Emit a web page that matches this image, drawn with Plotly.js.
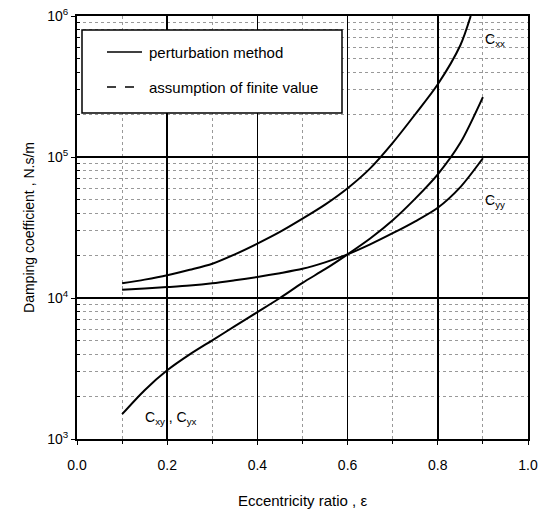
<!DOCTYPE html>
<html><head><meta charset="utf-8">
<script src="https://cdn.plot.ly/plotly-3.0.1.min.js"></script>
<style>html,body{margin:0;padding:0;background:#fff}</style>
</head><body>
<div id="chart" style="width:543px;height:513px"></div>
<script>
// Eccentricity ratio values and damping coefficients (N.s/m)
const epsXX = [0.1,0.15,0.2,0.25,0.3,0.35,0.4,0.45,0.5,0.55,0.6,0.65,0.7,0.75,0.8,0.85,0.873];
const cXX   = [12700,13500,14500,15850,17500,20400,24300,29400,36500,45900,60000,83000,126000,201000,328000,620000,1000000];
const epsYY = [0.1,0.15,0.2,0.25,0.3,0.35,0.4,0.45,0.5,0.55,0.6,0.65,0.7,0.75,0.8,0.85,0.9];
const cYY   = [11450,11700,11950,12250,12700,13350,14100,15000,16100,17900,20400,24000,28800,35000,43700,61200,98000];
const epsXY = [0.1,0.15,0.2,0.25,0.3,0.35,0.4,0.45,0.5,0.55,0.6,0.65,0.7,0.75,0.8,0.85,0.9];
const cXY   = [1500,2220,3070,3980,5010,6310,7940,10000,12800,16000,20400,26400,35600,50700,75400,126000,266000];
const xTickVals = [0,0.2,0.4,0.6,0.8,1.0];
const xTickText = ['0.0','0.2','0.4','0.6','0.8','1.0'];
const yTickVals = [1e3,1e4,1e5,1e6];
const yTickText = ['10<sup>3</sup>','10<sup>4</sup>','10<sup>5</sup>','10<sup>6</sup>'];
const seriesNames = ['perturbation method','assumption of finite value'];
const curveLabels = ['C<sub>xx</sub>','C<sub>yy</sub>','C<sub>xy</sub> , C<sub>yx</sub>'];

const FONT = 'Liberation Sans, Arial, sans-serif';
const solid = {color:'#000', width:2, shape:'spline', smoothing:0.8};
const traces = [
  {x:epsXX, y:cXX, mode:'lines', line:solid, name:seriesNames[0]},
  {x:epsYY, y:cYY, mode:'lines', line:solid, name:seriesNames[0]},
  {x:epsXY, y:cXY, mode:'lines', line:solid, name:seriesNames[0]}
];
// legend box geometry in pixels -> paper coords
const L = 77, T = 16, W = 451, H = 423;
const px = v => (v - L) / W;
const py = v => 1 - (v - T) / H;
const shapes = [
  {type:'rect', xref:'paper', yref:'paper', x0:px(82), x1:px(342), y0:py(113), y1:py(30),
   line:{color:'#000', width:1.5}, fillcolor:'#fff', layer:'above'},
  {type:'line', xref:'paper', yref:'paper', x0:px(107), x1:px(142), y0:py(52), y1:py(52),
   line:{color:'#000', width:1.5}, layer:'above'},
  {type:'line', xref:'paper', yref:'paper', x0:px(107), x1:px(142), y0:py(87), y1:py(87),
   line:{color:'#000', width:1.5, dash:'dash'}, layer:'above'}
];
const layout = {
  width:543, height:513,
  margin:{l:77, r:15, t:16, b:74},
  paper_bgcolor:'#fff', plot_bgcolor:'#fff',
  font:{family:FONT, size:14, color:'#000'},
  showlegend:false,
  shapes: shapes,
  xaxis:{range:[0,1], tickvals:xTickVals, ticktext:xTickText, showline:true, mirror:true,
         linecolor:'#000', linewidth:2, showgrid:true, gridcolor:'#000', gridwidth:1.5,
         ticks:'outside', ticklen:4, tickcolor:'#000', zeroline:false, ticklabelstandoff:8,
         minor:{dtick:0.1, tick0:0, showgrid:true, gridcolor:'#999', griddash:'dot', gridwidth:1, ticks:'outside', ticklen:3, tickcolor:'#000'},
         title:{text:'Eccentricity ratio , ε', font:{size:15, family:FONT}, standoff:24},
         tickfont:{size:14, family:FONT}},
  yaxis:{type:'log', range:[3,6], tickvals:yTickVals, ticktext:yTickText, showline:true, mirror:true,
         linecolor:'#000', linewidth:2, showgrid:true, gridcolor:'#000', gridwidth:1.5,
         ticks:'outside', ticklen:4, tickcolor:'#000', zeroline:false,
         minor:{tickvals:[2e3,3e3,4e3,5e3,6e3,7e3,8e3,9e3,2e4,3e4,4e4,5e4,6e4,7e4,8e4,9e4,2e5,3e5,4e5,5e5,6e5,7e5,8e5,9e5],
                showgrid:true, gridcolor:'#999', griddash:'dot', gridwidth:1, ticks:'inside', ticklen:3, tickcolor:'#000'},
         title:{text:'Damping coefficient , N.s/m', font:{size:14, family:FONT}, standoff:9},
         tickfont:{size:14, family:FONT}},
  annotations:[
    {x:px(147), y:py(52), xref:'paper', yref:'paper', text:seriesNames[0], showarrow:false, xanchor:'left', yanchor:'middle', font:{size:15, family:FONT}},
    {x:px(147), y:py(87), xref:'paper', yref:'paper', text:seriesNames[1], showarrow:false, xanchor:'left', yanchor:'middle', font:{size:15, family:FONT}},
    {x:0.9, y:Math.log10(680000), xref:'x', yref:'y', text:curveLabels[0], showarrow:false, xanchor:'left', font:{size:14, family:FONT}},
    {x:0.9, y:Math.log10(49000), xref:'x', yref:'y', text:curveLabels[1], showarrow:false, xanchor:'left', font:{size:14, family:FONT}},
    {x:0.147, y:Math.log10(1420), xref:'x', yref:'y', text:curveLabels[2], showarrow:false, xanchor:'left', font:{size:14, family:FONT}}
  ]
};
Plotly.newPlot('chart', traces, layout, {displayModeBar:false, staticPlot:true});
</script>
</body></html>
